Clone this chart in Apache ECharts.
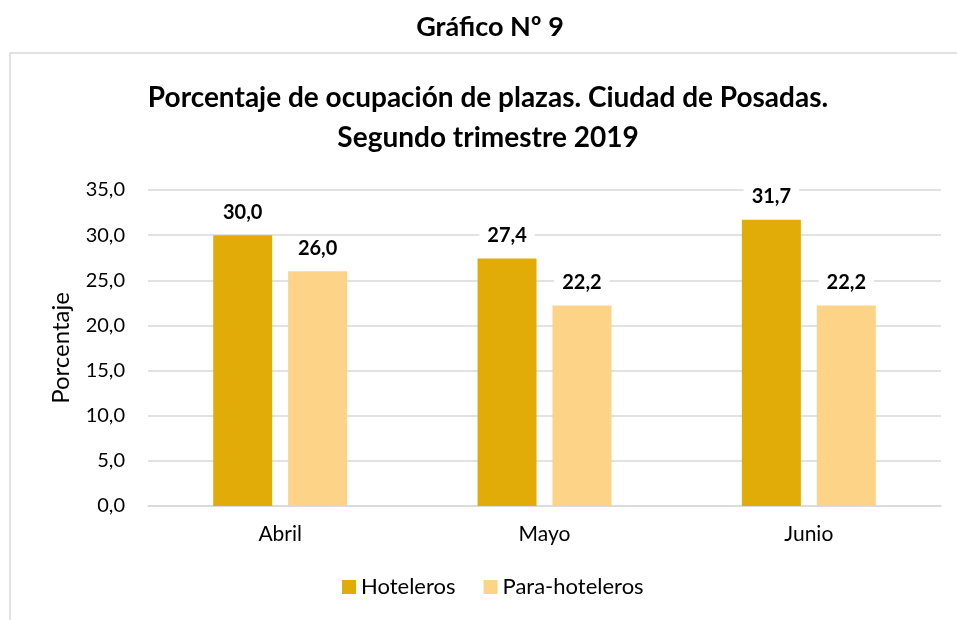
<!DOCTYPE html>
<html>
<head>
<meta charset="utf-8">
<script src="https://cdn.jsdelivr.net/npm/echarts@6/dist/echarts.min.js"></script>
<style>
  html, body { margin: 0; padding: 0; background: #fff; }
  #chart { width: 957px; height: 620px; }
</style>
</head>
<body>
<div id="chart"></div>
<script>
var meses = ['Abril', 'Mayo', 'Junio'];
var hoteleros = [30.0, 27.4, 31.7];
var paraHoteleros = [26.0, 22.2, 22.2];
var yTicks = [0, 5, 10, 15, 20, 25, 30, 35];

var fuente = 'Lato, "Open Sans", sans-serif';
var chart = echarts.init(document.getElementById('chart'));

function etiqueta(p) {
	return p.value.toFixed(1).replace('.', ',');
}

var option = {
	animation: false,
	title: [
		{
			text: 'Gráfico Nº 9',
			left: 490,
			top: 14,
			padding: 0,
			textAlign: 'center',
			textStyle: { fontFamily: fuente, fontSize: 27, fontWeight: 'bold', color: '#000' }
		},
		{
			text: 'Porcentaje de ocupación de plazas. Ciudad de Posadas.\nSegundo trimestre 2019',
			left: 488,
			top: 78,
			padding: 0,
			textAlign: 'center',
			textStyle: { fontFamily: fuente, fontSize: 28, fontWeight: 'bold', color: '#000', lineHeight: 40 }
		}
	],
	graphic: [
		{
			type: 'rect',
			shape: { x: 10, y: 53, width: 960, height: 600 },
			style: { fill: 'none', stroke: '#d9d9d9', lineWidth: 1.5 },
			z: -1
		}
	],
	grid: { left: 148, right: 16, top: 190, bottom: 114 },
	legend: {
		data: ['Hoteleros', 'Para-hoteleros'],
		bottom: 17,
		left: 337,
		icon: 'rect',
		itemWidth: 14,
		itemHeight: 14,
		itemGap: 28,
		textStyle: { fontFamily: fuente, fontSize: 22, color: '#000' }
	},
	xAxis: {
		type: 'category',
		data: meses,
		axisTick: { show: false },
		axisLine: { lineStyle: { color: '#d9d9d9', width: 1.5 } },
		axisLabel: { fontFamily: fuente, fontSize: 21, color: '#000', margin: 18 }
	},
	yAxis: {
		type: 'value',
		min: yTicks[0],
		max: yTicks[yTicks.length - 1],
		interval: 5,
		name: 'Porcentaje',
		nameLocation: 'middle',
		nameGap: 75,
		nameTextStyle: { fontFamily: fuente, fontSize: 24, color: '#000' },
		axisLine: { show: false },
		axisTick: { show: false },
		splitLine: { lineStyle: { color: '#d9d9d9', width: 1.5 } },
		axisLabel: {
			fontFamily: fuente, fontSize: 20, color: '#000', margin: 23,
			formatter: function (v) { return v.toFixed(1).replace('.', ','); }
		}
	},
	series: [
		{
			name: 'Hoteleros',
			type: 'bar',
			data: hoteleros,
			barWidth: 59,
			barGap: '27%',
			itemStyle: { color: '#E1AC07' },
			label: {
				show: true, position: 'top', distance: 11, formatter: etiqueta,
				fontFamily: fuente, fontSize: 20, fontWeight: 'bold', color: '#000',
				backgroundColor: '#fff', padding: [2, 8]
			}
		},
		{
			name: 'Para-hoteleros',
			type: 'bar',
			data: paraHoteleros,
			barWidth: 59,
			itemStyle: { color: '#FDD388' },
			label: {
				show: true, position: 'top', distance: 11, formatter: etiqueta,
				fontFamily: fuente, fontSize: 20, fontWeight: 'bold', color: '#000',
				backgroundColor: '#fff', padding: [2, 8]
			}
		}
	]
};
chart.setOption(option);
</script>
</body>
</html>
